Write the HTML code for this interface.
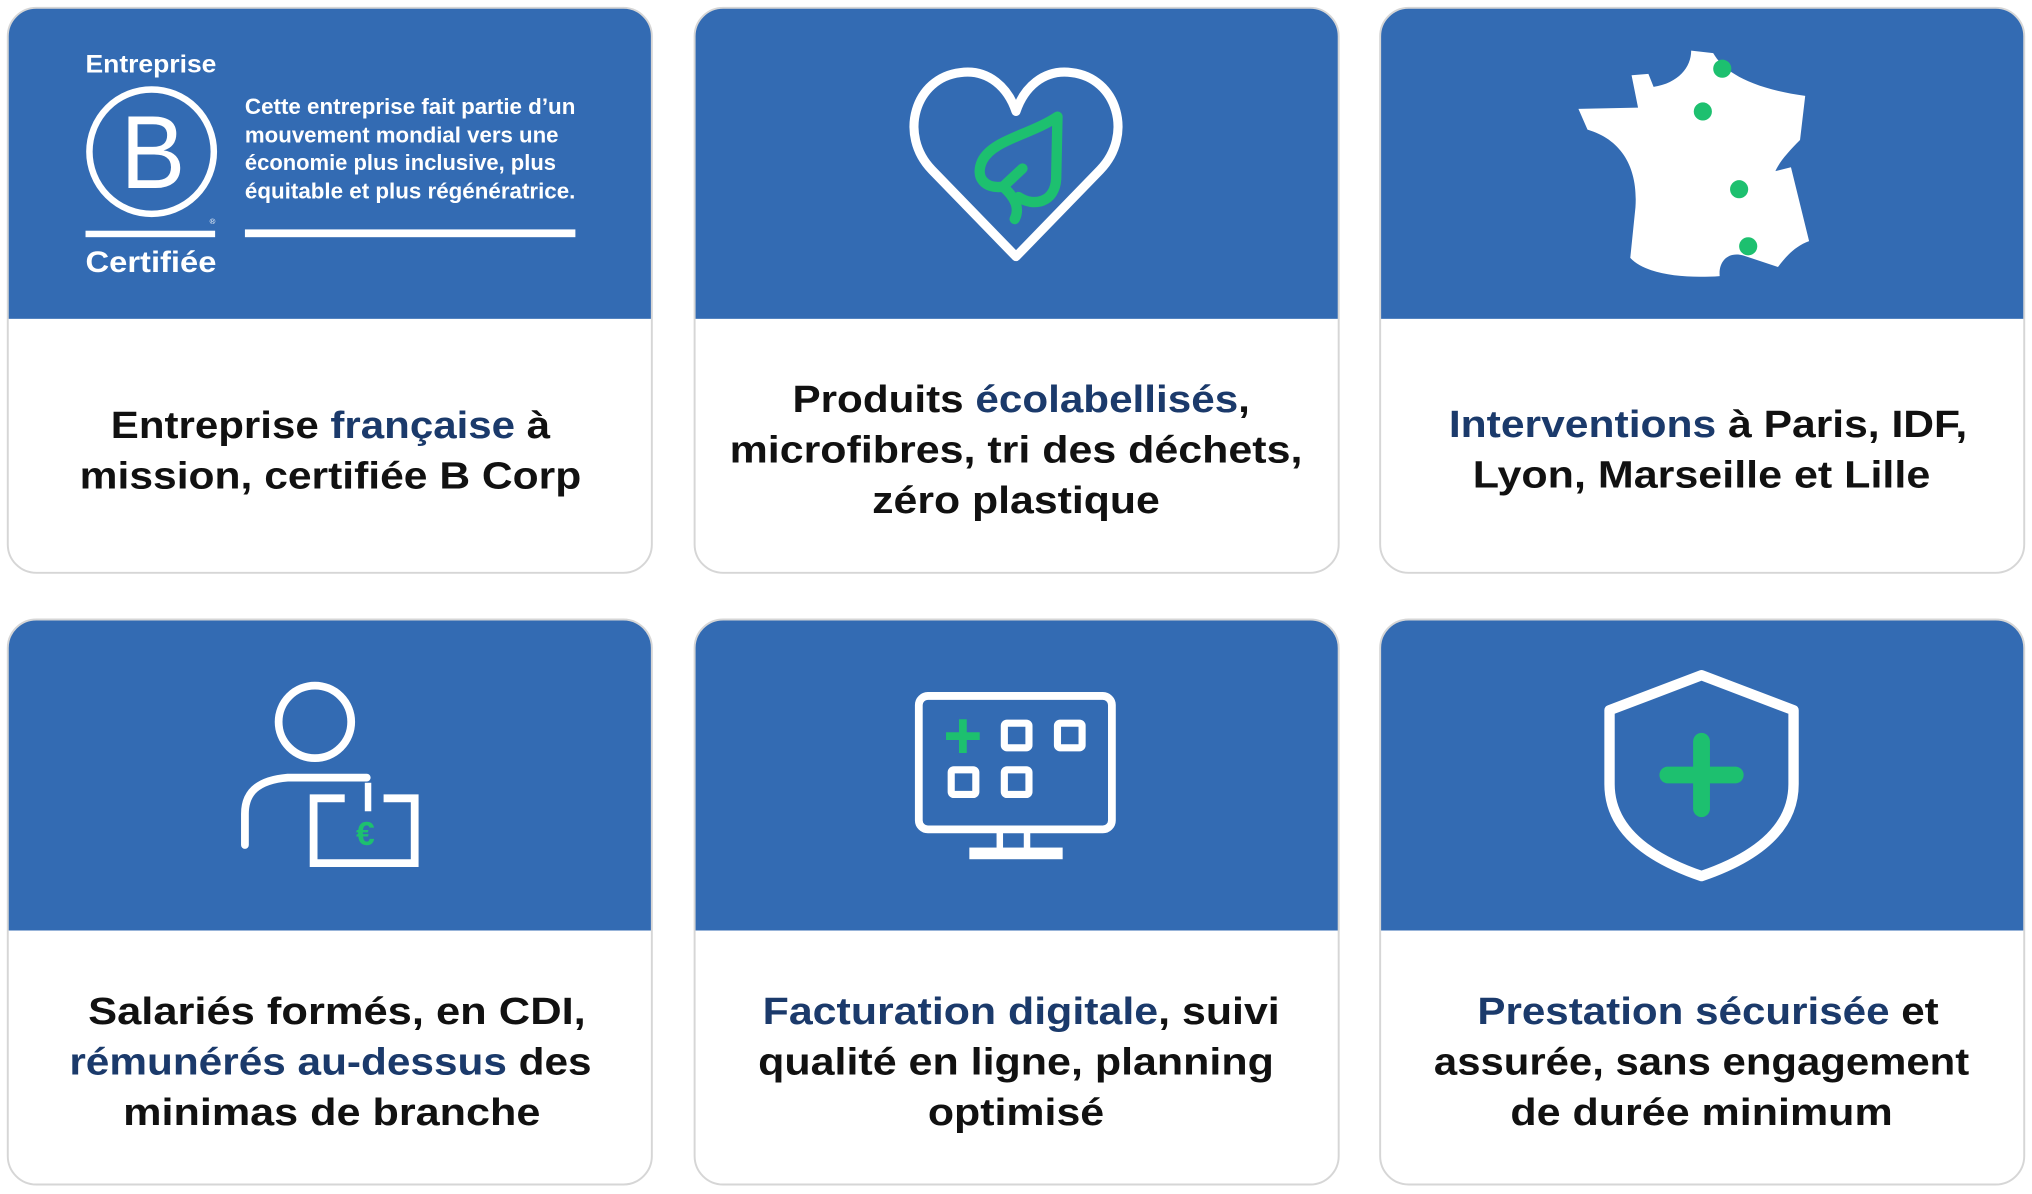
<!DOCTYPE html>
<html><head><meta charset="utf-8"><style>
html,body{margin:0;padding:0;background:#fff;}
svg{display:block;}
text{font-family:"Liberation Sans",sans-serif;}
.t{font-size:29px;font-weight:bold;fill:#111;}
.n{fill:#1b3a6b;}
</style></head><body>
<svg width="2032" height="1194" viewBox="0 0 1568 921.3" xmlns="http://www.w3.org/2000/svg">
<defs>
<clipPath id="c"><rect x="0" y="0" width="497" height="436" rx="22"/></clipPath>
<g id="card">
 <rect x="0" y="0" width="497" height="436" rx="22" fill="#fff"/>
 <rect x="0" y="0" width="497" height="240" fill="#336bb3" clip-path="url(#c)"/>
 <rect x="0" y="0" width="497" height="436" rx="22" fill="none" stroke="#d6d6d6" stroke-width="1.5"/>
</g>
</defs>
<use href="#card" x="6" y="6"/>
<use href="#card" x="536" y="6"/>
<use href="#card" x="1065" y="6"/>
<use href="#card" x="6" y="478"/>
<use href="#card" x="536" y="478"/>
<use href="#card" x="1065" y="478"/>

<!-- B Corp -->
<text x="66" y="56" font-size="19" font-weight="bold" fill="#fff" textLength="101" lengthAdjust="spacingAndGlyphs">Entreprise</text>
<circle cx="117" cy="117" r="48" fill="none" stroke="#fff" stroke-width="5"/>
<text x="118" y="145" font-size="80" fill="#fff" text-anchor="middle" textLength="50" lengthAdjust="spacingAndGlyphs">B</text>
<rect x="66" y="178" width="100" height="5" fill="#fff"/>
<text x="164" y="173" font-size="6" fill="#fff" text-anchor="middle">®</text>
<text x="66" y="210" font-size="23" font-weight="bold" fill="#fff" textLength="101" lengthAdjust="spacingAndGlyphs">Certifiée</text>
<g font-size="17" font-weight="bold" fill="#fff">
<text x="189" y="88" textLength="255" lengthAdjust="spacingAndGlyphs">Cette entreprise fait partie d’un</text>
<text x="189" y="110" textLength="242" lengthAdjust="spacingAndGlyphs">mouvement mondial vers une</text>
<text x="189" y="131" textLength="240" lengthAdjust="spacingAndGlyphs">économie plus inclusive, plus</text>
<text x="189" y="153" textLength="255" lengthAdjust="spacingAndGlyphs">équitable et plus régénératrice.</text>
</g>
<rect x="189" y="177" width="255" height="6" fill="#fff"/>

<!-- Heart -->
<path d="M784,198 L719,131 C693,104 706,60 741,56 C763,53 778,68 784,86 C790,68 805,53 827,56 C862,60 875,104 849,131 Z" fill="none" stroke="#fff" stroke-width="7" stroke-linejoin="round"/>
<path d="M816,90 C795,104 766,108 758,124 C752,137 760,146 774,144 L789,130 M816,90 L815,138 C814,156 798,160 786,152 M774,144 C784,153 787,161 783,169" fill="none" stroke="#1dc06f" stroke-width="8" stroke-linecap="round" stroke-linejoin="round"/>

<!-- France -->
<path d="M1305,39 L1322,41 C1330,55 1350,68 1393,74 L1389,108 C1380,117 1373,125 1370,132 L1382,129 L1396,186 C1385,190 1378,198 1372,206 L1345,197 C1333,194 1326,202 1327,213 C1300,215 1270,212 1258,199 L1262,160 C1264,130 1252,108 1225,100 L1218,84 L1264,83 L1259,58 L1272,57 L1276,67 C1295,64 1305,52 1305,39 Z" fill="#fff"/>
<g fill="#1dc06f"><circle cx="1329" cy="53" r="7"/><circle cx="1314" cy="86" r="7"/><circle cx="1342" cy="146" r="7"/><circle cx="1349" cy="190" r="7"/></g>

<!-- Person -->
<circle cx="243" cy="557" r="28" fill="none" stroke="#fff" stroke-width="6"/>
<path d="M189,652 L189,628 C189,612 198,602 222,600 L283,600" fill="none" stroke="#fff" stroke-width="6" stroke-linecap="round"/>
<path d="M266,616 L242,616 L242,666 L320,666 L320,616 L296,616" fill="none" stroke="#fff" stroke-width="6"/>
<line x1="284" y1="604" x2="284" y2="626" stroke="#fff" stroke-width="5"/>
<text x="282" y="652" font-size="26" font-weight="bold" fill="#1dc06f" text-anchor="middle">€</text>

<!-- Monitor -->
<rect x="709" y="537" width="149" height="103" rx="7" fill="none" stroke="#fff" stroke-width="6"/>
<rect x="769" y="640" width="5" height="15" fill="#fff"/><rect x="790" y="640" width="5" height="15" fill="#fff"/>
<rect x="748" y="654" width="72" height="9" fill="#fff"/>
<g fill="none" stroke="#fff" stroke-width="5.5">
<rect x="775" y="558" width="19" height="19" rx="2"/><rect x="816" y="558" width="19" height="19" rx="2"/>
<rect x="734" y="594" width="19" height="19" rx="2"/><rect x="775" y="594" width="19" height="19" rx="2"/>
</g>
<path d="M743,555 V581 M730,568 H756" stroke="#1dc06f" stroke-width="6"/>

<!-- Shield -->
<path d="M1313,521 L1242,548 L1242,605 C1242,640 1272,662 1313,676 C1354,662 1384,640 1384,605 L1384,548 Z" fill="none" stroke="#fff" stroke-width="8" stroke-linejoin="round"/>
<path d="M1313,572 V624 M1287,598 H1339" stroke="#1dc06f" stroke-width="13" stroke-linecap="round"/>

<!-- Texts -->
<g class="t" text-anchor="middle">
<text x="255" y="338" textLength="339" lengthAdjust="spacingAndGlyphs">Entreprise <tspan class="n">française</tspan> à</text>
<text x="255" y="377" textLength="387" lengthAdjust="spacingAndGlyphs">mission, certifiée B Corp</text>

<text x="788" y="318" textLength="353" lengthAdjust="spacingAndGlyphs">Produits <tspan class="n">écolabellisés</tspan>,</text>
<text x="784" y="357" textLength="442" lengthAdjust="spacingAndGlyphs">microfibres, tri des déchets,</text>
<text x="784" y="396" textLength="222" lengthAdjust="spacingAndGlyphs">zéro plastique</text>

<text x="1318" y="337" textLength="400" lengthAdjust="spacingAndGlyphs"><tspan class="n">Interventions</tspan> à Paris, IDF,</text>
<text x="1313" y="376" textLength="353" lengthAdjust="spacingAndGlyphs">Lyon, Marseille et Lille</text>

<text x="260" y="790" textLength="384" lengthAdjust="spacingAndGlyphs">Salariés formés, en CDI,</text>
<text x="255" y="829" textLength="403" lengthAdjust="spacingAndGlyphs"><tspan class="n">rémunérés au-dessus</tspan> des</text>
<text x="256" y="868" textLength="322" lengthAdjust="spacingAndGlyphs">minimas de branche</text>

<text x="788" y="790" textLength="399" lengthAdjust="spacingAndGlyphs"><tspan class="n">Facturation digitale</tspan>, suivi</text>
<text x="784" y="829" textLength="398" lengthAdjust="spacingAndGlyphs">qualité en ligne, planning</text>
<text x="784" y="868" textLength="136" lengthAdjust="spacingAndGlyphs">optimisé</text>

<text x="1318" y="790" textLength="356" lengthAdjust="spacingAndGlyphs"><tspan class="n">Prestation sécurisée</tspan> et</text>
<text x="1313" y="829" textLength="413" lengthAdjust="spacingAndGlyphs">assurée, sans engagement</text>
<text x="1313" y="868" textLength="295" lengthAdjust="spacingAndGlyphs">de durée minimum</text>
</g>
</svg>
</body></html>
